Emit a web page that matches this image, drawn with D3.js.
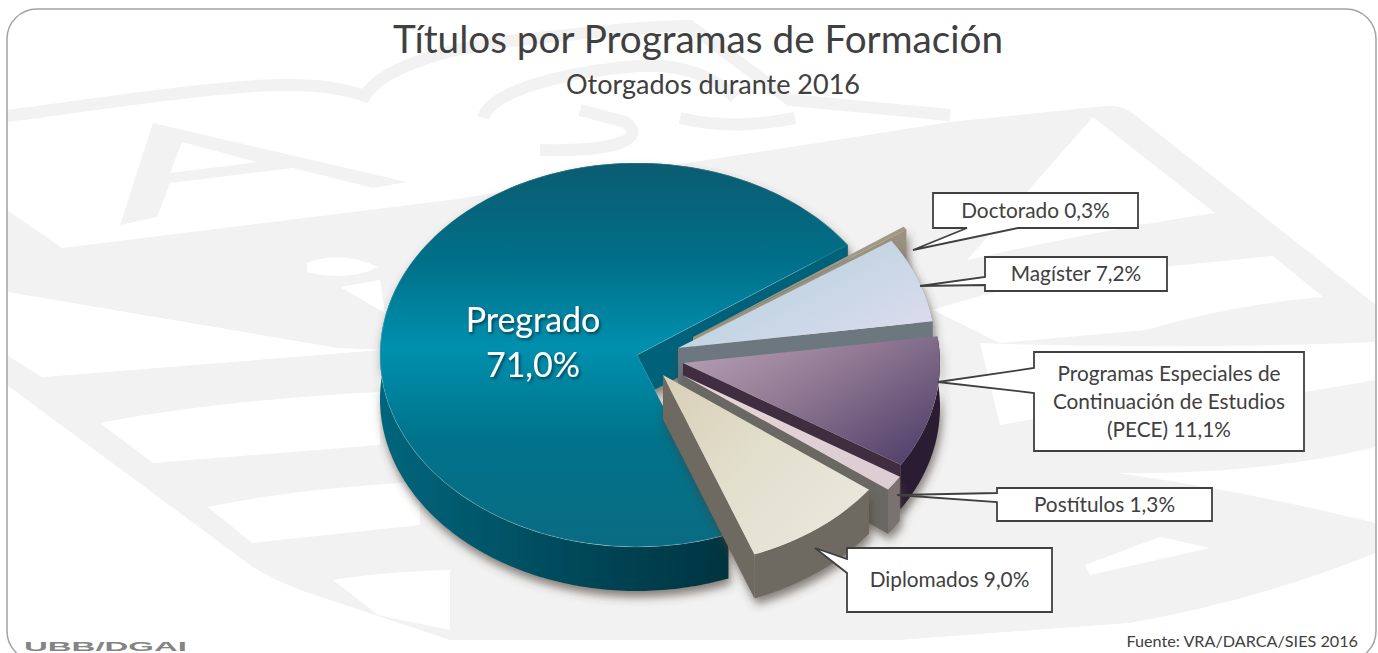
<!DOCTYPE html>
<html>
<head>
<meta charset="utf-8">
<title>Títulos por Programas de Formación</title>
<script src="https://cdn.jsdelivr.net/npm/d3@7"></script>
<style>
  html, body { margin: 0; padding: 0; background: #fff; overflow: hidden; }
  text { font-family: Lato, "Open Sans", sans-serif; fill: #404040; }
</style>
</head>
<body>
<svg id="chart" width="1378" height="653"></svg>
<script>
// values, clockwise from the Doctorado slice
const categories = ['Doctorado', 'Magíster', 'Programas Especiales de Continuación de Estudios (PECE)', 'Postítulos', 'Diplomados', 'Pregrado'];
const values = [0.3, 7.2, 11.1, 1.3, 9.0, 71.0];
const titleText = 'Títulos por Programas de Formación';
const subtitleText = 'Otorgados durante 2016';
const sourceText = 'Fuente: VRA/DARCA/SIES 2016';
const footerText = 'UBB/DGAI';

const svg = d3.select('#chart');
const defs = svg.append('defs');

function pct(v) {
  return v.toFixed(1).replace('.', ',') + '%';
}

// pie geometry
const cx = 637, cy = 355, rx = 257, ry = 192, depth = 44;
const startDeg = 55;

// how far each slice is pulled out of the pie, by slice order
const explode = [[56, -18], [41, -7], [46, 8], [45, 20], [26, 20], [0, 0]];

const topColors = [
  ['#a29886', '#a29886'],
  ['#b9cede', '#c4d5e3', '#dbdcee'],
  ['#bba5b8', '#8f7792', '#54436c'],
  ['#e6d6da', '#dccdd2'],
  ['#d9cfb6', '#e2dfcd', '#e9e8dd'],
  null
];
const wallColors = ['#9b917f', '#7c868d', '#2a1d30', '#7a7270', '#6e6a62', 'url(#wallPregrado)'];
const faceColors = ['#9b917f', '#6d777f', '#3f2f40', '#6b6862', '#6e6a62', '#00627a'];

topColors.forEach(function(c, i) {
  if (!c) return;
  let g = defs.append('linearGradient').attr('id', 'top' + i)
    .attr('x1', 0).attr('y1', 0).attr('x2', 1).attr('y2', 0.8);
  c.forEach(function(col, k) {
    g.append('stop').attr('offset', k / (c.length - 1)).attr('stop-color', col);
  });
});

let preg = defs.append('linearGradient').attr('id', 'topPregrado')
  .attr('x1', 0).attr('y1', 0).attr('x2', 0).attr('y2', 1);
[[0, '#0b5c71'], [0.25, '#006f88'], [0.48, '#0090ae'], [0.72, '#00738b'], [1, '#0a6b82']].forEach(function(s) {
  preg.append('stop').attr('offset', s[0]).attr('stop-color', s[1]);
});
let pregWall = defs.append('linearGradient').attr('id', 'wallPregrado')
  .attr('x1', 0).attr('y1', 0).attr('x2', 1).attr('y2', 0);
[[0, '#00667c'], [0.45, '#004656'], [1, '#00242d']].forEach(function(s) {
  pregWall.append('stop').attr('offset', s[0]).attr('stop-color', s[1]);
});

let shadow = defs.append('filter').attr('id', 'wallShadow')
  .attr('x', '-10%').attr('y', '-10%').attr('width', '125%').attr('height', '125%');
shadow.append('feDropShadow').attr('dx', 2).attr('dy', 6).attr('stdDeviation', 5)
  .attr('flood-color', '#4a4036').attr('flood-opacity', 0.65);
let textShadow = defs.append('filter').attr('id', 'textShadow')
  .attr('x', '-10%').attr('y', '-20%').attr('width', '120%').attr('height', '140%');
textShadow.append('feDropShadow').attr('dx', 1.5).attr('dy', 2).attr('stdDeviation', 1.5)
  .attr('flood-color', '#00303c').attr('flood-opacity', 0.8);

// frame
const frame = {x: 7, y: 9, w: 1369, h: 652, r: 30};
defs.append('clipPath').attr('id', 'frameClip').append('rect')
  .attr('x', frame.x).attr('y', frame.y).attr('width', frame.w).attr('height', frame.h).attr('rx', frame.r);

// watermark behind the chart
const wm = svg.append('g').attr('clip-path', 'url(#frameClip)');
const wmGrey = '#f2f2f2';
const wmBlock = 'M62,248 L450,200 L880,133 L950,122 L1105,106 Q1122,104 1135,115 L1376,305 L1376,553 Q1260,600 1130,623 L900,640 L450,640 L330,600 Q280,585 250,565 L7,385 L7,355 L42,377 L380,350 L337,348 L7,292 L7,210 Z';
const wmGaps = [
  'M42,377 L380,350 L337,348 L7,292 L7,355 Z',
  'M100,423 L153,463 L380,445 L380,392 Q220,400 100,423 Z',
  'M208,507 L252,543 L420,525 L420,482 Q300,488 208,507 Z',
  'M333,580 L378,615 L450,630 L450,570 Q380,572 333,580 Z',
  'M1093,117 L1215,213 Q1100,230 967,260 Z',
  'M933,310 Q1040,275 1163,267 L1273,256 L1323,297 Q1230,305 1146,330 L1000,343 Z',
  'M980,343 Q1180,350 1376,342 L1376,380 L1305,392 Q1130,400 1000,425 Z',
  'M1117,473 Q1260,475 1376,447 L1376,523 Q1240,490 1117,473 Z',
  'M1160,537 L1210,548 L1090,575 L1085,565 Z',
  'M7,400 L240,580 L300,615 L450,660 L7,660 Z',
  'M1130,623 Q1260,600 1376,553 L1376,660 L900,660 L900,640 Z',
  'M307,263 Q340,250 378,267 Q350,282 307,272 Z',
  'M340,287 L380,280 L385,313 Z',
  'M7,110 L7,9 L1376,9 L1376,280 L1135,100 L1105,100 L950,115 L7,205 Z'
];
wm.append('path').attr('d', wmBlock).attr('fill', wmGrey);
wmGaps.forEach(function(d) { wm.append('path').attr('d', d).attr('fill', '#fff'); });

// letter A of the shield, on top of the cleared area
wm.append('path').attr('fill', wmGrey).attr('fill-rule', 'evenodd')
  .attr('d', 'M153,123 L407,182 L373,188 L293,168 L170,183 L157,217 L120,225 Z M182,142 L257,162 L170,173 Z');

// curved strokes of the shield
const wmStrokes = [
  'M7,116 C120,101 230,84 290,85 C320,85 345,89 365,96 C380,70 440,48 520,40 C580,34 640,26 690,26 L790,100 L950,115',
  'M483,118 C490,92 560,72 640,66 C690,63 720,82 735,98',
  'M540,150 C610,152 650,140 625,122 L580,110',
  'M680,118 C720,128 760,125 795,118',
  'M1105,112 L1376,320'
];
wmStrokes.forEach(function(d) {
  wm.append('path').attr('d', d).attr('fill', 'none').attr('stroke', wmGrey).attr('stroke-width', 12);
});

// pie, drawn back to front
const slices = d3.pie().value(function(d) { return d; }).sort(null)
  .startAngle(startDeg * Math.PI / 180)
  .endAngle(startDeg * Math.PI / 180 + 2 * Math.PI)(values);
const arc = d3.arc().innerRadius(0).outerRadius(1);
const px = function(a) { return rx * Math.sin(a); };
const py = function(a) { return -ry * Math.cos(a); };

// Pregrado goes first, everything pulled out sits in front of it
const order = [5, 0, 1, 2, 3, 4];
const pieG = svg.append('g');

order.forEach(function(i) {
  let s = slices[i];
  let dx = cx + explode[i][0], dy = cy + explode[i][1];
  let g = pieG.append('g').attr('transform', 'translate(' + dx + ',' + dy + ')');
  let walls = g.append('g').attr('filter', 'url(#wallShadow)');

  // outer wall
  let n = Math.max(4, Math.ceil((s.endAngle - s.startAngle) * 60));
  let angles = d3.range(n + 1).map(function(k) {
    return s.startAngle + (s.endAngle - s.startAngle) * k / n;
  });
  walls.append('path')
    .attr('d', d3.area()
      .x(px)
      .y0(py)
      .y1(function(a) { return py(a) + depth; })(angles))
    .attr('fill', wallColors[i]);

  // wall under the closing radial edge
  let e = s.endAngle;
  walls.append('path')
    .attr('d', d3.line()([[0, 0], [px(e), py(e)], [px(e), py(e) + depth], [0, depth]]) + 'Z')
    .attr('fill', faceColors[i]);

  g.append('path')
    .attr('d', arc(s))
    .attr('transform', 'scale(' + rx + ',' + ry + ')')
    .attr('fill', i == 5 ? 'url(#topPregrado)' : 'url(#top' + i + ')')
    .attr('stroke', i == 5 ? 'rgba(255,255,255,0.18)' : 'none')
    .style('vector-effect', 'non-scaling-stroke');
});

// Pregrado label sits on the slice
const inner = svg.append('g').attr('filter', 'url(#textShadow)');
inner.append('text').attr('x', 533).attr('y', 332).attr('text-anchor', 'middle')
  .style('font-size', '34px').style('fill', '#fff').text(categories[5]);
inner.append('text').attr('x', 533).attr('y', 377).attr('text-anchor', 'middle')
  .style('font-size', '34px').style('fill', '#fff').text(pct(values[5]));

// callouts: box, anchor gap on the box edge and tip near the slice
const callouts = [
  {i: 0, box: [933, 193, 205, 35], side: 'bottom', gap: [967, 1018], tip: [913, 250], lines: [categories[0] + ' ' + pct(values[0])]},
  {i: 1, box: [985, 257, 182, 34], side: 'left', gap: [277, 285], tip: [920, 286], lines: [categories[1] + ' ' + pct(values[1])]},
  {i: 2, box: [1034, 352, 270, 99], side: 'left', gap: [368, 393], tip: [938, 382], lines: ['Programas Especiales de', 'Continuación de Estudios', '(PECE) ' + pct(values[2])]},
  {i: 3, box: [997, 488, 215, 33], side: 'left', gap: [493, 502], tip: [897, 495], lines: [categories[3] + ' ' + pct(values[3])]},
  {i: 4, box: [847, 548, 205, 64], side: 'left', gap: [559, 573], tip: [815, 548], lines: [categories[4] + ' ' + pct(values[4])]}
];

callouts.forEach(function(c) {
  let x = c.box[0], y = c.box[1], w = c.box[2], h = c.box[3];
  let pts;
  if (c.side == 'left') {
    pts = [[x, y], [x + w, y], [x + w, y + h], [x, y + h], [x, c.gap[1]], c.tip, [x, c.gap[0]]];
  } else {
    pts = [[x, y], [x + w, y], [x + w, y + h], [c.gap[1], y + h], c.tip, [c.gap[0], y + h], [x, y + h]];
  }
  svg.append('path').attr('d', d3.line()(pts) + 'Z')
    .attr('fill', '#fff').attr('stroke', '#404040').attr('stroke-width', 1.8);
  let lh = 28;
  let y0 = y + h / 2 + 7 - (c.lines.length - 1) * lh / 2;
  c.lines.forEach(function(l, k) {
    svg.append('text').attr('x', x + w / 2).attr('y', y0 + k * lh)
      .attr('text-anchor', 'middle').style('font-size', '20.8px').text(l);
  });
});

// titles
svg.append('text').attr('x', 698).attr('y', 53).attr('text-anchor', 'middle')
  .style('font-size', '38.7px').text(titleText);
svg.append('text').attr('x', 713).attr('y', 94).attr('text-anchor', 'middle')
  .style('font-size', '27px').text(subtitleText);
svg.append('text').attr('x', 1358).attr('y', 647).attr('text-anchor', 'end')
  .style('font-size', '16.2px').text(sourceText);
svg.append('text').attr('x', 24).attr('y', 650.5)
  .attr('textLength', 163).attr('lengthAdjust', 'spacingAndGlyphs')
  .style('font-family', '"Liberation Sans", sans-serif').style('font-weight', 'bold')
  .style('font-size', '12px').style('fill', '#848484').text(footerText);

// frame border on top of the watermark
svg.append('rect')
  .attr('x', frame.x).attr('y', frame.y).attr('width', frame.w).attr('height', frame.h).attr('rx', frame.r)
  .attr('fill', 'none').attr('stroke', '#a3a3a3').attr('stroke-width', 1.5);
</script>
</body>
</html>
